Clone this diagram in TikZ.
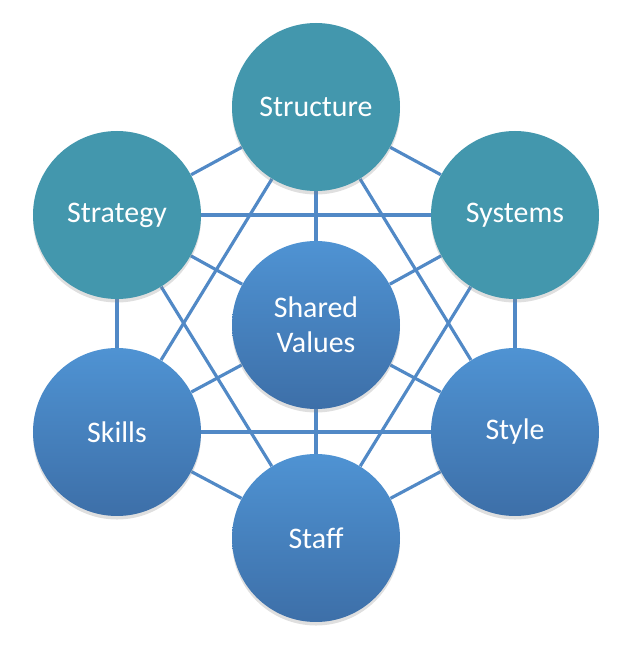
\documentclass[tikz,border=0pt]{standalone}
\usepackage{fontspec}
\setmainfont{Carlito}
\usepackage{xcolor}
\usepackage{tikz}
\usetikzlibrary{shadows, backgrounds}

\definecolor{tealfill}{HTML}{4397AD}
\definecolor{bluetop}{HTML}{4F93D3}
\definecolor{bluebot}{HTML}{3D6FA8}
\definecolor{linkblue}{HTML}{5189C6}

\begin{document}
\begin{tikzpicture}[
  elem/.style={circle, minimum size=3.36cm, inner sep=0pt, text=white,
    font=\fontsize{17}{20}\selectfont, align=center,
    drop shadow={shadow xshift=0pt, shadow yshift=-2pt, opacity=0.25, fill=gray}},
  hardelem/.style={elem, fill=tealfill},
  softelem/.style={elem, top color=bluetop, bottom color=bluebot},
  link/.style={draw=linkblue, line width=1.8pt}
]
\useasboundingbox (0,0) rectangle (12.64,13.04);

% hard elements (top)
\node[hardelem] (structure) at (6.32,10.90) {Structure};
\node[hardelem] (strategy) at (2.34,8.74) {Strategy};
\node[hardelem] (systems) at (10.30,8.74) {Systems};

% shared values in the middle
\node[softelem] (shared) at (6.32,6.54) {Shared\\Values};

% soft elements (bottom)
\node[softelem] (skills) at (2.34,4.40) {Skills};
\node[softelem] (style) at (10.30,4.40) {Style};
\node[softelem] (staff) at (6.32,2.28) {Staff};

% every element is linked to the others
\begin{scope}[on background layer]
\draw[link] (structure) -- (strategy);
\draw[link] (structure) -- (systems);
\draw[link] (strategy) -- (skills);
\draw[link] (systems) -- (style);
\draw[link] (skills) -- (staff);
\draw[link] (style) -- (staff);
\draw[link] (strategy) -- (systems);
\draw[link] (skills) -- (style);
\draw[link] (structure) -- (skills);
\draw[link] (structure) -- (style);
\draw[link] (strategy) -- (staff);
\draw[link] (systems) -- (staff);
\foreach \n in {structure, strategy, systems, skills, style, staff}
  \draw[link] (shared) -- (\n);
\end{scope}
\end{tikzpicture}
\end{document}
